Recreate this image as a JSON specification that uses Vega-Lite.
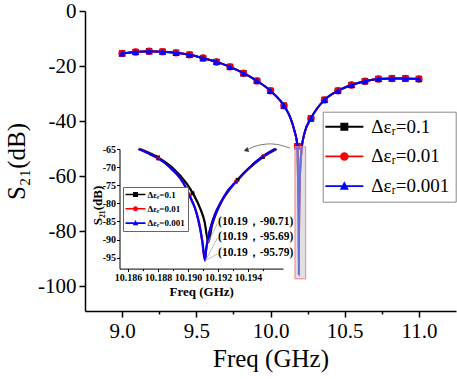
{
  "$schema": "https://vega.github.io/schema/vega-lite/v6.json",
  "width": 371,
  "height": 300,
  "autosize": {"type": "none"},
  "padding": {"left": 85, "top": 11, "right": 1, "bottom": 68},
  "background": "white",
  "config": {
    "view": {"stroke": null},
    "font": "Liberation Serif",
    "axis": {"grid": false, "domainColor": "black", "tickColor": "black", "labelColor": "black", "titleColor": "black", "labelFont": "Liberation Serif", "titleFont": "Liberation Serif"},
    "legend": {"labelFont": "Liberation Serif"},
    "text": {"font": "Liberation Serif"}
  },
  "datasets": {
    "mainCurve": [
      {"s": "Δεᵣ=0.1", "f": 9.0, "d": -15.4}, {"s": "Δεᵣ=0.1", "f": 9.0909, "d": -14.9}, {"s": "Δεᵣ=0.1", "f": 9.1818, "d": -14.6}, {"s": "Δεᵣ=0.1", "f": 9.2727, "d": -14.8}, {"s": "Δεᵣ=0.1", "f": 9.3636, "d": -15.2}, {"s": "Δεᵣ=0.1", "f": 9.4545, "d": -15.9}, {"s": "Δεᵣ=0.1", "f": 9.5455, "d": -17.1}, {"s": "Δεᵣ=0.1", "f": 9.6364, "d": -18.5}, {"s": "Δεᵣ=0.1", "f": 9.7273, "d": -20.3}, {"s": "Δεᵣ=0.1", "f": 9.8182, "d": -22.6}, {"s": "Δεᵣ=0.1", "f": 9.9091, "d": -25.4}, {"s": "Δεᵣ=0.1", "f": 10.0, "d": -29.0}, {"s": "Δεᵣ=0.1", "f": 10.0909, "d": -34.4}, {"s": "Δεᵣ=0.1", "f": 10.13, "d": -38.3}, {"s": "Δεᵣ=0.1", "f": 10.16, "d": -43.2}, {"s": "Δεᵣ=0.1", "f": 10.1818, "d": -49.1}, {"s": "Δεᵣ=0.1", "f": 10.184, "d": -55.5}, {"s": "Δεᵣ=0.1", "f": 10.1855, "d": -61}, {"s": "Δεᵣ=0.1", "f": 10.1868, "d": -65}, {"s": "Δεᵣ=0.1", "f": 10.188, "d": -67.3}, {"s": "Δεᵣ=0.1", "f": 10.19, "d": -75}, {"s": "Δεᵣ=0.1", "f": 10.1913, "d": -90.71}, {"s": "Δεᵣ=0.1", "f": 10.1924, "d": -79}, {"s": "Δεᵣ=0.1", "f": 10.1934, "d": -73}, {"s": "Δεᵣ=0.1", "f": 10.1959, "d": -65}, {"s": "Δεᵣ=0.1", "f": 10.198, "d": -60.5}, {"s": "Δεᵣ=0.1", "f": 10.202, "d": -55.5}, {"s": "Δεᵣ=0.1", "f": 10.21, "d": -50}, {"s": "Δεᵣ=0.1", "f": 10.23, "d": -44.2}, {"s": "Δεᵣ=0.1", "f": 10.2727, "d": -39.0}, {"s": "Δεᵣ=0.1", "f": 10.3636, "d": -32.3}, {"s": "Δεᵣ=0.1", "f": 10.4545, "d": -29.0}, {"s": "Δεᵣ=0.1", "f": 10.5455, "d": -26.9}, {"s": "Δεᵣ=0.1", "f": 10.6364, "d": -25.5}, {"s": "Δεᵣ=0.1", "f": 10.7273, "d": -24.7}, {"s": "Δεᵣ=0.1", "f": 10.8182, "d": -24.5}, {"s": "Δεᵣ=0.1", "f": 10.9091, "d": -24.5}, {"s": "Δεᵣ=0.1", "f": 11.0, "d": -24.7},
      {"s": "Δεᵣ=0.01", "f": 9.0, "d": -15.4}, {"s": "Δεᵣ=0.01", "f": 9.0909, "d": -14.9}, {"s": "Δεᵣ=0.01", "f": 9.1818, "d": -14.6}, {"s": "Δεᵣ=0.01", "f": 9.2727, "d": -14.8}, {"s": "Δεᵣ=0.01", "f": 9.3636, "d": -15.2}, {"s": "Δεᵣ=0.01", "f": 9.4545, "d": -15.9}, {"s": "Δεᵣ=0.01", "f": 9.5455, "d": -17.1}, {"s": "Δεᵣ=0.01", "f": 9.6364, "d": -18.5}, {"s": "Δεᵣ=0.01", "f": 9.7273, "d": -20.3}, {"s": "Δεᵣ=0.01", "f": 9.8182, "d": -22.6}, {"s": "Δεᵣ=0.01", "f": 9.9091, "d": -25.4}, {"s": "Δεᵣ=0.01", "f": 10.0, "d": -29.0}, {"s": "Δεᵣ=0.01", "f": 10.0909, "d": -34.4}, {"s": "Δεᵣ=0.01", "f": 10.13, "d": -38.3}, {"s": "Δεᵣ=0.01", "f": 10.16, "d": -43.2}, {"s": "Δεᵣ=0.01", "f": 10.1818, "d": -49.1}, {"s": "Δεᵣ=0.01", "f": 10.184, "d": -55.5}, {"s": "Δεᵣ=0.01", "f": 10.1855, "d": -61}, {"s": "Δεᵣ=0.01", "f": 10.1867, "d": -65}, {"s": "Δεᵣ=0.01", "f": 10.188, "d": -67.6}, {"s": "Δεᵣ=0.01", "f": 10.19, "d": -76.5}, {"s": "Δεᵣ=0.01", "f": 10.1911, "d": -95.69}, {"s": "Δεᵣ=0.01", "f": 10.1922, "d": -80}, {"s": "Δεᵣ=0.01", "f": 10.1932, "d": -74.2}, {"s": "Δεᵣ=0.01", "f": 10.1958, "d": -65}, {"s": "Δεᵣ=0.01", "f": 10.198, "d": -60.5}, {"s": "Δεᵣ=0.01", "f": 10.202, "d": -55.5}, {"s": "Δεᵣ=0.01", "f": 10.21, "d": -50}, {"s": "Δεᵣ=0.01", "f": 10.23, "d": -44.2}, {"s": "Δεᵣ=0.01", "f": 10.2727, "d": -39.0}, {"s": "Δεᵣ=0.01", "f": 10.3636, "d": -32.3}, {"s": "Δεᵣ=0.01", "f": 10.4545, "d": -29.0}, {"s": "Δεᵣ=0.01", "f": 10.5455, "d": -26.9}, {"s": "Δεᵣ=0.01", "f": 10.6364, "d": -25.5}, {"s": "Δεᵣ=0.01", "f": 10.7273, "d": -24.7}, {"s": "Δεᵣ=0.01", "f": 10.8182, "d": -24.5}, {"s": "Δεᵣ=0.01", "f": 10.9091, "d": -24.5}, {"s": "Δεᵣ=0.01", "f": 11.0, "d": -24.7},
      {"s": "Δεᵣ=0.001", "f": 9.0, "d": -15.4}, {"s": "Δεᵣ=0.001", "f": 9.0909, "d": -14.9}, {"s": "Δεᵣ=0.001", "f": 9.1818, "d": -14.6}, {"s": "Δεᵣ=0.001", "f": 9.2727, "d": -14.8}, {"s": "Δεᵣ=0.001", "f": 9.3636, "d": -15.2}, {"s": "Δεᵣ=0.001", "f": 9.4545, "d": -15.9}, {"s": "Δεᵣ=0.001", "f": 9.5455, "d": -17.1}, {"s": "Δεᵣ=0.001", "f": 9.6364, "d": -18.5}, {"s": "Δεᵣ=0.001", "f": 9.7273, "d": -20.3}, {"s": "Δεᵣ=0.001", "f": 9.8182, "d": -22.6}, {"s": "Δεᵣ=0.001", "f": 9.9091, "d": -25.4}, {"s": "Δεᵣ=0.001", "f": 10.0, "d": -29.0}, {"s": "Δεᵣ=0.001", "f": 10.0909, "d": -34.4}, {"s": "Δεᵣ=0.001", "f": 10.13, "d": -38.3}, {"s": "Δεᵣ=0.001", "f": 10.16, "d": -43.2}, {"s": "Δεᵣ=0.001", "f": 10.1818, "d": -49.1}, {"s": "Δεᵣ=0.001", "f": 10.184, "d": -55.5}, {"s": "Δεᵣ=0.001", "f": 10.1855, "d": -61}, {"s": "Δεᵣ=0.001", "f": 10.1867, "d": -65}, {"s": "Δεᵣ=0.001", "f": 10.188, "d": -67.6}, {"s": "Δεᵣ=0.001", "f": 10.19, "d": -76.5}, {"s": "Δεᵣ=0.001", "f": 10.1911, "d": -95.79}, {"s": "Δεᵣ=0.001", "f": 10.1922, "d": -80}, {"s": "Δεᵣ=0.001", "f": 10.1932, "d": -74.2}, {"s": "Δεᵣ=0.001", "f": 10.1958, "d": -65}, {"s": "Δεᵣ=0.001", "f": 10.198, "d": -60.5}, {"s": "Δεᵣ=0.001", "f": 10.202, "d": -55.5}, {"s": "Δεᵣ=0.001", "f": 10.21, "d": -50}, {"s": "Δεᵣ=0.001", "f": 10.23, "d": -44.2}, {"s": "Δεᵣ=0.001", "f": 10.2727, "d": -39.0}, {"s": "Δεᵣ=0.001", "f": 10.3636, "d": -32.3}, {"s": "Δεᵣ=0.001", "f": 10.4545, "d": -29.0}, {"s": "Δεᵣ=0.001", "f": 10.5455, "d": -26.9}, {"s": "Δεᵣ=0.001", "f": 10.6364, "d": -25.5}, {"s": "Δεᵣ=0.001", "f": 10.7273, "d": -24.7}, {"s": "Δεᵣ=0.001", "f": 10.8182, "d": -24.5}, {"s": "Δεᵣ=0.001", "f": 10.9091, "d": -24.5}, {"s": "Δεᵣ=0.001", "f": 11.0, "d": -24.7}
    ],
    "mainMarkers": [
      {"f": 9.0, "d": -15.4}, {"f": 9.0909, "d": -14.9}, {"f": 9.1818, "d": -14.6}, {"f": 9.2727, "d": -14.8}, {"f": 9.3636, "d": -15.2}, {"f": 9.4545, "d": -15.9}, {"f": 9.5455, "d": -17.1}, {"f": 9.6364, "d": -18.5}, {"f": 9.7273, "d": -20.3}, {"f": 9.8182, "d": -22.6}, {"f": 9.9091, "d": -25.4}, {"f": 10.0, "d": -29.0}, {"f": 10.0909, "d": -34.4}, {"f": 10.1818, "d": -49.1}, {"f": 10.2727, "d": -39.0}, {"f": 10.3636, "d": -32.3}, {"f": 10.4545, "d": -29.0}, {"f": 10.5455, "d": -26.9}, {"f": 10.6364, "d": -25.5}, {"f": 10.7273, "d": -24.7}, {"f": 10.8182, "d": -24.5}, {"f": 10.9091, "d": -24.5}, {"f": 11.0, "d": -24.7}
    ],
    "box": [{"f": 10.165, "f2": 10.237, "d": -49.3, "d2": -97.3}],
    "arrow": [{"f": 9.843, "d": -50.4}, {"f": 9.9, "d": -48.9}, {"f": 9.982, "d": -48.1}, {"f": 10.06, "d": -48.5}, {"f": 10.13, "d": -49.8}],
    "arrowHead": [{"f": 9.835, "d": -50.6}],
    "insetCurve": [
      {"s": "Δεᵣ=0.1", "f": 10.1868, "d": -65}, {"s": "Δεᵣ=0.1", "f": 10.188, "d": -67.3}, {"s": "Δεᵣ=0.1", "f": 10.189, "d": -70.3}, {"s": "Δεᵣ=0.1", "f": 10.1899, "d": -74.5}, {"s": "Δεᵣ=0.1", "f": 10.1904, "d": -77.8}, {"s": "Δεᵣ=0.1", "f": 10.1908, "d": -81.3}, {"s": "Δεᵣ=0.1", "f": 10.1911, "d": -85.0}, {"s": "Δεᵣ=0.1", "f": 10.19135, "d": -90.71}, {"s": "Δεᵣ=0.1", "f": 10.1916, "d": -86.0}, {"s": "Δεᵣ=0.1", "f": 10.1919, "d": -82.5}, {"s": "Δεᵣ=0.1", "f": 10.1923, "d": -79.0}, {"s": "Δεᵣ=0.1", "f": 10.1928, "d": -76.0}, {"s": "Δεᵣ=0.1", "f": 10.1934, "d": -73.0}, {"s": "Δεᵣ=0.1", "f": 10.1942, "d": -69.8}, {"s": "Δεᵣ=0.1", "f": 10.195, "d": -67.2}, {"s": "Δεᵣ=0.1", "f": 10.1959, "d": -65},
      {"s": "Δεᵣ=0.01", "f": 10.1867, "d": -65}, {"s": "Δεᵣ=0.01", "f": 10.1875, "d": -66.5}, {"s": "Δεᵣ=0.01", "f": 10.188, "d": -67.6}, {"s": "Δεᵣ=0.01", "f": 10.1885, "d": -69.0}, {"s": "Δεᵣ=0.01", "f": 10.189, "d": -70.9}, {"s": "Δεᵣ=0.01", "f": 10.1895, "d": -73.2}, {"s": "Δεᵣ=0.01", "f": 10.1899, "d": -76.0}, {"s": "Δεᵣ=0.01", "f": 10.1902, "d": -78.8}, {"s": "Δεᵣ=0.01", "f": 10.19045, "d": -81.2}, {"s": "Δεᵣ=0.01", "f": 10.19065, "d": -84.0}, {"s": "Δεᵣ=0.01", "f": 10.1908, "d": -86.8}, {"s": "Δεᵣ=0.01", "f": 10.19095, "d": -90.5}, {"s": "Δεᵣ=0.01", "f": 10.19113, "d": -95.69}, {"s": "Δεᵣ=0.01", "f": 10.1912, "d": -93.0}, {"s": "Δεᵣ=0.01", "f": 10.19135, "d": -89.2}, {"s": "Δεᵣ=0.01", "f": 10.19155, "d": -86.0}, {"s": "Δεᵣ=0.01", "f": 10.1918, "d": -83.0}, {"s": "Δεᵣ=0.01", "f": 10.19215, "d": -80.0}, {"s": "Δεᵣ=0.01", "f": 10.1926, "d": -76.8}, {"s": "Δεᵣ=0.01", "f": 10.1932, "d": -74.0}, {"s": "Δεᵣ=0.01", "f": 10.194, "d": -70.5}, {"s": "Δεᵣ=0.01", "f": 10.195, "d": -67.0}, {"s": "Δεᵣ=0.01", "f": 10.1958, "d": -65},
      {"s": "Δεᵣ=0.001", "f": 10.1867, "d": -65}, {"s": "Δεᵣ=0.001", "f": 10.1875, "d": -66.5}, {"s": "Δεᵣ=0.001", "f": 10.188, "d": -67.6}, {"s": "Δεᵣ=0.001", "f": 10.1885, "d": -69.0}, {"s": "Δεᵣ=0.001", "f": 10.189, "d": -70.9}, {"s": "Δεᵣ=0.001", "f": 10.1895, "d": -73.2}, {"s": "Δεᵣ=0.001", "f": 10.1899, "d": -76.0}, {"s": "Δεᵣ=0.001", "f": 10.1902, "d": -78.8}, {"s": "Δεᵣ=0.001", "f": 10.19045, "d": -81.2}, {"s": "Δεᵣ=0.001", "f": 10.19065, "d": -84.0}, {"s": "Δεᵣ=0.001", "f": 10.1908, "d": -86.8}, {"s": "Δεᵣ=0.001", "f": 10.19095, "d": -90.5}, {"s": "Δεᵣ=0.001", "f": 10.19113, "d": -95.79}, {"s": "Δεᵣ=0.001", "f": 10.1912, "d": -93.0}, {"s": "Δεᵣ=0.001", "f": 10.19135, "d": -89.2}, {"s": "Δεᵣ=0.001", "f": 10.19155, "d": -86.0}, {"s": "Δεᵣ=0.001", "f": 10.1918, "d": -83.0}, {"s": "Δεᵣ=0.001", "f": 10.19215, "d": -80.0}, {"s": "Δεᵣ=0.001", "f": 10.1926, "d": -76.8}, {"s": "Δεᵣ=0.001", "f": 10.1932, "d": -74.0}, {"s": "Δεᵣ=0.001", "f": 10.194, "d": -70.5}, {"s": "Δεᵣ=0.001", "f": 10.195, "d": -67.0}, {"s": "Δεᵣ=0.001", "f": 10.1958, "d": -65}
    ],
    "insetMarkers": [
      {"s": "Δεᵣ=0.1", "f": 10.188, "d": -67.3}, {"s": "Δεᵣ=0.1", "f": 10.1903, "d": -77.2}, {"s": "Δεᵣ=0.1", "f": 10.1933, "d": -73.5}, {"s": "Δεᵣ=0.1", "f": 10.195, "d": -67.2},
      {"s": "Δεᵣ=0.01", "f": 10.188, "d": -67.6}, {"s": "Δεᵣ=0.01", "f": 10.1901, "d": -77.9}, {"s": "Δεᵣ=0.01", "f": 10.1932, "d": -74.0}, {"s": "Δεᵣ=0.01", "f": 10.195, "d": -67.0},
      {"s": "Δεᵣ=0.001", "f": 10.188, "d": -67.6}, {"s": "Δεᵣ=0.001", "f": 10.1901, "d": -77.9}, {"s": "Δεᵣ=0.001", "f": 10.1932, "d": -74.0}, {"s": "Δεᵣ=0.001", "f": 10.195, "d": -67.0}
    ],
    "leaders": [
      {"f": 10.19135, "d": -90.71, "f2": 10.19195, "d2": -85.6},
      {"f": 10.19118, "d": -95.69, "f2": 10.19195, "d2": -89.6},
      {"f": 10.19113, "d": -95.79, "f2": 10.19195, "d2": -94.0}
    ],
    "notes": [
      {"f": 10.192, "d": -85.1, "label": "(10.19，-90.71)"},
      {"f": 10.192, "d": -89.4, "label": "(10.19，-95.69)"},
      {"f": 10.192, "d": -93.8, "label": "(10.19，-95.79)"}
    ],
    "legendKeys": [{"s": "Δεᵣ=0.1"}, {"s": "Δεᵣ=0.01"}, {"s": "Δεᵣ=0.001"}]
  },
  "layer": [
    {
      "layer": [
        {
          "data": {"name": "mainCurve"},
          "transform": [{"filter": "datum.s === 'Δεᵣ=0.1'"}],
          "mark": {"type": "line", "color": "black", "strokeWidth": 2, "interpolate": "monotone"},
          "encoding": {
            "x": {"field": "f", "type": "quantitative", "scale": {"domain": [8.75, 11.25], "nice": false, "zero": false},
              "axis": {"orient": "bottom", "values": [9, 9.25, 9.5, 9.75, 10, 10.25, 10.5, 10.75, 11],
                "labelExpr": "abs(datum.value*2-round(datum.value*2))<0.01 ? format(datum.value,'.1f') : ''",
                "tickSize": {"condition": {"test": "abs(datum.value*2-round(datum.value*2))<0.01", "value": 6}, "value": 3},
                "labelFont": "Liberation Serif", "labelFontSize": 21, "labelPadding": 3, "labelFlush": false, "labelOverlap": false, "domainWidth": 1.5, "tickWidth": 1.5,
                "title": "Freq (GHz)", "titleFont": "Liberation Serif", "titleFontSize": 25, "titleFontWeight": "normal", "titlePadding": 5}},
            "y": {"field": "d", "type": "quantitative", "scale": {"domain": [-109, 0], "nice": false, "zero": false},
              "axis": {"orient": "left", "values": [0, -10, -20, -30, -40, -50, -60, -70, -80, -90, -100],
                "labelExpr": "datum.value % 20 === 0 ? '' + datum.value : ''",
                "tickSize": {"condition": {"test": "datum.value % 20 === 0", "value": 6}, "value": 3},
                "labelFont": "Liberation Serif", "labelFontSize": 21, "labelPadding": 3, "labelFlush": false, "labelOverlap": false, "domainWidth": 1.5, "tickWidth": 1.5,
                "title": "S₂₁(dB)", "titleFont": "Liberation Serif", "titleFontSize": 25, "titleFontWeight": "normal", "titlePadding": 8}}
          }
        },
        {
          "data": {"name": "mainMarkers"},
          "mark": {"type": "point", "shape": "square", "filled": true, "color": "black", "size": 40, "opacity": 1},
          "encoding": {"x": {"field": "f", "type": "quantitative"}, "y": {"field": "d", "type": "quantitative"}}
        },
        {
          "data": {"name": "mainCurve"},
          "transform": [{"filter": "datum.s === 'Δεᵣ=0.01'"}],
          "mark": {"type": "line", "color": "red", "strokeWidth": 2, "interpolate": "monotone"},
          "encoding": {"x": {"field": "f", "type": "quantitative"}, "y": {"field": "d", "type": "quantitative"}}
        },
        {
          "data": {"name": "mainMarkers"},
          "mark": {"type": "point", "shape": "circle", "filled": true, "color": "red", "size": 55, "opacity": 1},
          "encoding": {"x": {"field": "f", "type": "quantitative"}, "y": {"field": "d", "type": "quantitative"}}
        },
        {
          "data": {"name": "mainCurve"},
          "transform": [{"filter": "datum.s === 'Δεᵣ=0.001'"}],
          "mark": {"type": "line", "color": "blue", "strokeWidth": 2, "interpolate": "monotone"},
          "encoding": {"x": {"field": "f", "type": "quantitative"}, "y": {"field": "d", "type": "quantitative"}}
        },
        {
          "data": {"name": "mainMarkers"},
          "mark": {"type": "point", "shape": "triangle-up", "filled": true, "color": "blue", "size": 50, "opacity": 1},
          "encoding": {"x": {"field": "f", "type": "quantitative"}, "y": {"field": "d", "type": "quantitative"}}
        },
        {
          "data": {"name": "box"},
          "mark": {"type": "rect", "fill": "#c8c8c8", "fillOpacity": 0.55, "stroke": "#f08080", "strokeWidth": 1},
          "encoding": {"x": {"field": "f", "type": "quantitative"}, "x2": {"field": "f2"}, "y": {"field": "d", "type": "quantitative"}, "y2": {"field": "d2"}}
        },
        {
          "data": {"name": "arrow"},
          "mark": {"type": "line", "color": "#555555", "strokeWidth": 0.8, "interpolate": "basis"},
          "encoding": {"x": {"field": "f", "type": "quantitative"}, "y": {"field": "d", "type": "quantitative"}}
        },
        {
          "data": {"name": "arrowHead"},
          "mark": {"type": "point", "shape": "triangle-left", "filled": true, "color": "#333333", "size": 30, "angle": -20, "opacity": 1},
          "encoding": {"x": {"field": "f", "type": "quantitative"}, "y": {"field": "d", "type": "quantitative"}}
        },
        {
          "data": {"name": "legendKeys"},
          "mark": {"type": "point", "filled": true, "opacity": 0},
          "encoding": {
            "color": {"field": "s", "type": "nominal", "scale": {"domain": ["Δεᵣ=0.1", "Δεᵣ=0.01", "Δεᵣ=0.001"], "range": ["black", "red", "blue"]},
              "legend": {"title": null, "orient": "none", "legendX": 237.7, "legendY": 100.7, "symbolSize": 361, "symbolStrokeWidth": 0, "symbolOpacity": 1, "labelFont": "Liberation Serif", "labelFontSize": 19, "labelOffset": 24, "rowPadding": 9.7, "padding": 5.5, "strokeColor": "#888888", "fillColor": "white", "labelColor": "black", "labelLimit": 300}},
            "shape": {"field": "s", "type": "nominal", "scale": {"domain": ["Δεᵣ=0.1", "Δεᵣ=0.01", "Δεᵣ=0.001"], "range": [
                "M-1.3,-0.1H2.7V0.1H-1.3Z M0.28,-0.42H1.12V0.42H0.28Z",
                "M-1.3,-0.1H2.7V0.1H-1.3Z M0.25,0A0.45,0.45 0 1,1 1.15,0A0.45,0.45 0 1,1 0.25,0Z",
                "M-1.3,-0.1H2.7V0.1H-1.3Z M0.7,-0.5L1.18,0.38L0.22,0.38Z"]},
              "legend": {"title": null, "orient": "none", "legendX": 237.7, "legendY": 100.7, "symbolSize": 361, "symbolStrokeWidth": 0, "symbolOpacity": 1, "labelFont": "Liberation Serif", "labelFontSize": 19, "labelOffset": 24, "rowPadding": 9.7, "padding": 5.5, "strokeColor": "#888888", "fillColor": "white", "labelColor": "black", "labelLimit": 300}}
          }
        }
      ]
    },
    {
      "layer": [
        {
          "data": {"name": "insetCurve"},
          "transform": [{"filter": "datum.s === 'Δεᵣ=0.1'"}],
          "mark": {"type": "line", "color": "black", "strokeWidth": 2.2, "interpolate": "monotone"},
          "encoding": {
            "x": {"field": "f", "type": "quantitative", "scale": {"domain": [10.18543, 10.19633], "range": [34.5, 198], "nice": false, "zero": false},
              "axis": {"orient": "bottom", "offset": -42.4, "values": [10.186, 10.187, 10.188, 10.189, 10.19, 10.191, 10.192, 10.193, 10.194, 10.195],
                "labelExpr": "abs(datum.value*500-round(datum.value*500))<0.01 ? format(datum.value,'.3f') : ''",
                "tickSize": {"condition": {"test": "abs(datum.value*500-round(datum.value*500))<0.01", "value": 3}, "value": 2},
                "labelFont": "Liberation Serif", "labelFontSize": 10, "labelFontWeight": "bold", "labelPadding": 1, "labelFlush": false, "labelOverlap": false, "domainWidth": 1, "tickWidth": 1,
                "title": "Freq (GHz)", "titleFont": "Liberation Serif", "titleFontSize": 13, "titleFontWeight": "bold", "titlePadding": 3}},
            "y": {"field": "d", "type": "quantitative", "scale": {"domain": [-98, -65], "range": [257.6, 138], "nice": false, "zero": false},
              "axis": {"orient": "left", "offset": -34.5, "values": [-95, -90, -85, -80, -75, -70, -65],
                "labelExpr": "'' + datum.value", "tickSize": 3,
                "labelFont": "Liberation Serif", "labelFontSize": 10, "labelFontWeight": "bold", "labelPadding": 1, "labelFlush": false, "labelOverlap": false, "domainWidth": 1, "tickWidth": 1,
                "title": "S₂₁(dB)", "titleFont": "Liberation Serif", "titleFontSize": 13, "titleFontWeight": "bold", "titleX": -15, "titleY": 194, "titleBaseline": "bottom"}}
          }
        },
        {
          "data": {"name": "insetCurve"},
          "transform": [{"filter": "datum.s === 'Δεᵣ=0.01'"}],
          "mark": {"type": "line", "color": "red", "strokeWidth": 2.2, "interpolate": "monotone"},
          "encoding": {"x": {"field": "f", "type": "quantitative"}, "y": {"field": "d", "type": "quantitative"}}
        },
        {
          "data": {"name": "insetCurve"},
          "transform": [{"filter": "datum.s === 'Δεᵣ=0.001'"}],
          "mark": {"type": "line", "color": "blue", "strokeWidth": 2.2, "interpolate": "monotone"},
          "encoding": {"x": {"field": "f", "type": "quantitative"}, "y": {"field": "d", "type": "quantitative"}}
        },
        {
          "data": {"name": "insetMarkers"},
          "transform": [{"filter": "datum.s === 'Δεᵣ=0.1'"}],
          "mark": {"type": "point", "shape": "square", "filled": true, "color": "black", "size": 14, "opacity": 1},
          "encoding": {"x": {"field": "f", "type": "quantitative"}, "y": {"field": "d", "type": "quantitative"}}
        },
        {
          "data": {"name": "insetMarkers"},
          "transform": [{"filter": "datum.s === 'Δεᵣ=0.01'"}],
          "mark": {"type": "point", "shape": "circle", "filled": true, "color": "red", "size": 18, "opacity": 1},
          "encoding": {"x": {"field": "f", "type": "quantitative"}, "y": {"field": "d", "type": "quantitative"}}
        },
        {
          "data": {"name": "insetMarkers"},
          "transform": [{"filter": "datum.s === 'Δεᵣ=0.001'"}],
          "mark": {"type": "point", "shape": "triangle-up", "filled": true, "color": "blue", "size": 18, "opacity": 1},
          "encoding": {"x": {"field": "f", "type": "quantitative"}, "y": {"field": "d", "type": "quantitative"}}
        },
        {
          "data": {"name": "leaders"},
          "mark": {"type": "rule", "color": "#aaaaaa", "strokeWidth": 0.8},
          "encoding": {"x": {"field": "f", "type": "quantitative"}, "x2": {"field": "f2"}, "y": {"field": "d", "type": "quantitative"}, "y2": {"field": "d2"}}
        },
        {
          "data": {"name": "notes"},
          "mark": {"type": "text", "align": "left", "baseline": "middle", "font": "Liberation Serif", "fontWeight": "bold", "fontSize": 11.5, "color": "black"},
          "encoding": {"x": {"field": "f", "type": "quantitative"}, "y": {"field": "d", "type": "quantitative"}, "text": {"field": "label"}}
        },
        {
          "data": {"name": "legendKeys"},
          "mark": {"type": "point", "filled": true, "opacity": 0},
          "encoding": {
            "color": {"field": "s", "type": "nominal", "scale": {"domain": ["Δεᵣ=0.1", "Δεᵣ=0.01", "Δεᵣ=0.001"], "range": ["black", "red", "blue"]},
              "legend": {"title": null, "orient": "none", "legendX": 38, "legendY": 176, "symbolSize": 100, "symbolStrokeWidth": 0, "symbolOpacity": 1, "labelFont": "Liberation Serif", "labelFontWeight": "bold", "labelFontSize": 9, "labelOffset": 12, "rowPadding": 4.3, "padding": 2.5, "strokeColor": "#666666", "fillColor": "white", "labelColor": "black", "labelLimit": 200}},
            "shape": {"field": "s", "type": "nominal", "scale": {"domain": ["Δεᵣ=0.1", "Δεᵣ=0.01", "Δεᵣ=0.001"], "range": [
                "M-1,-0.16H3V0.16H-1Z M0.5,-0.5H1.5V0.5H0.5Z",
                "M-1,-0.16H3V0.16H-1Z M0.5,0A0.5,0.5 0 1,1 1.5,0A0.5,0.5 0 1,1 0.5,0Z",
                "M-1,-0.16H3V0.16H-1Z M1,-0.6L1.55,0.45L0.45,0.45Z"]},
              "legend": {"title": null, "orient": "none", "legendX": 38, "legendY": 176, "symbolSize": 100, "symbolStrokeWidth": 0, "symbolOpacity": 1, "labelFont": "Liberation Serif", "labelFontWeight": "bold", "labelFontSize": 9, "labelOffset": 12, "rowPadding": 4.3, "padding": 2.5, "strokeColor": "#666666", "fillColor": "white", "labelColor": "black", "labelLimit": 200}}
          }
        }
      ]
    }
  ],
  "resolve": {
    "scale": {"x": "independent", "y": "independent", "color": "independent", "shape": "independent"},
    "axis": {"x": "independent", "y": "independent"}
  }
}
